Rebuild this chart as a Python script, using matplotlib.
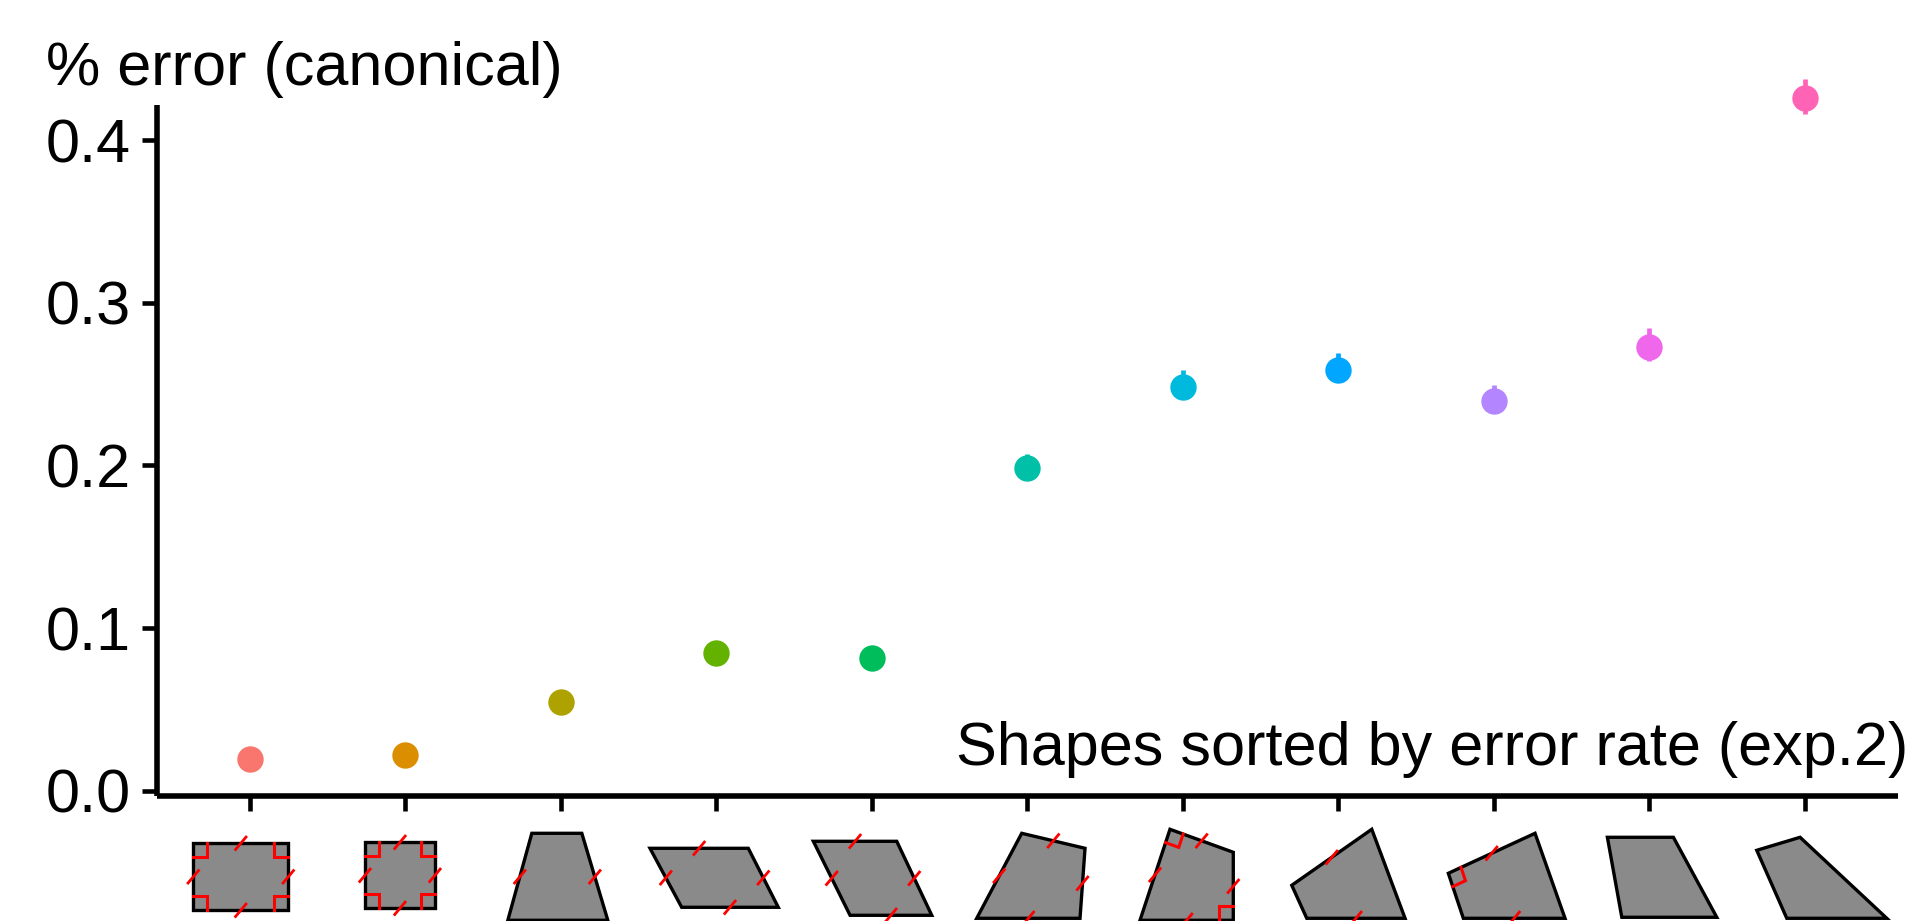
import numpy as np
import matplotlib
matplotlib.use("Agg")
import matplotlib.pyplot as plt
from matplotlib.patches import Polygon

# ---------------- data ----------------
shape_ids = list(range(1, 12))
error_mean = [0.0193, 0.0218, 0.0546, 0.0845, 0.0814, 0.1985, 0.2483, 0.2589, 0.2394, 0.2728, 0.4258]
err_low = [0.004, 0.004, 0.004, 0.004, 0.005, 0.006, 0.007, 0.007, 0.007, 0.0086, 0.0096]
err_high = [0.004, 0.005, 0.005, 0.005, 0.007, 0.0086, 0.0102, 0.0102, 0.0102, 0.0117, 0.0117]
colors = ["#F8766D", "#DB8E00", "#AEA200", "#64B200", "#00BD5C", "#00C1A7",
          "#00BADE", "#00A6FF", "#B385FF", "#EF67EB", "#FF63B6"]
y_ticks = [0.0, 0.1, 0.2, 0.3, 0.4]
y_tick_labels = ["0.0", "0.1", "0.2", "0.3", "0.4"]
y_label = "% error (canonical)"
x_label = "Shapes sorted by error rate (exp.2)"

# shape glyphs drawn as x tick "labels": outline (px offsets from tick, px below axis line),
# edges carrying equal-length slashes, vertices carrying right-angle marks
shape_outlines = [
    [(-56.6, 47), (38.4, 47), (38.4, 114), (-56.6, 114)],
    [(-40.4, 46), (29.6, 46), (29.6, 112), (-40.4, 112)],
    [(-29, 37), (21, 37), (47, 124), (-53, 124)],
    [(-66.3, 52), (32, 52), (62, 111), (-34.6, 111)],
    [(-58.4, 45), (25, 45), (60, 119), (-21.7, 119)],
    [(-5.5, 37), (57.8, 52), (52.8, 122), (-50.5, 122)],
    [(-12.7, 33), (50.6, 56), (50.6, 124), (-42.7, 124)],
    [(33.6, 33), (-46.4, 89), (-31.4, 122), (66.9, 122)],
    [(-45.3, 77), (41.4, 37), (71.4, 122), (-30.3, 122)],
    [(-41.7, 41), (24.3, 41), (67.7, 121), (-27.3, 121)],
    [(-47.8, 54), (-4.5, 41), (82.2, 122), (-17.8, 122)],
]
shape_slash_edges = [[0, 1, 2, 3], [0, 1, 2, 3], [1, 3], [0, 1, 2, 3], [0, 1, 2, 3],
                     [0, 1, 2, 3], [0, 1, 2, 3], [0, 2], [0, 2], [], []]
shape_right_angles = [[0, 1, 2, 3], [0, 1, 2, 3], [], [], [], [], [0, 2], [], [0], [], []]

# ---------------- figure ----------------
plt.rcParams['font.family'] = ['Liberation Sans', 'DejaVu Sans']
W, H, DPI = 1930, 921, 100
fig = plt.figure(figsize=(W / DPI, H / DPI), dpi=DPI)
fig.patch.set_facecolor('white')

ax = fig.add_axes([0.08114, 0.1354, 0.9022, 0.8006])
x = np.arange(len(shape_ids))
for i in range(len(shape_ids)):
    ax.errorbar(x[i], error_mean[i], yerr=[[err_low[i]], [err_high[i]]], fmt='o',
                color=colors[i], ms=19, mew=0, elinewidth=3.4, capsize=0,
                clip_on=False, zorder=3)

ax.set_xlim(-0.6, 10.6)
ax.set_ylim(-0.0035, 0.45)
ax.set_yticks(y_ticks)
ax.set_yticklabels(y_tick_labels)
ax.set_xticks(x)
ax.set_xticklabels([""] * len(x))
for s in ['top', 'right']:
    ax.spines[s].set_visible(False)
for s in ['left', 'bottom']:
    ax.spines[s].set_linewidth(4)
    ax.spines[s].set_capstyle('butt')
ax.spines['left'].set_bounds(-0.0035, 0.4214)
ax.tick_params(axis='both', direction='out', length=10.5, width=3.3, labelsize=44,
               pad=8, color='black', labelcolor='black')
ax.set_facecolor('white')

fig.text(46 / W, 1 - 85 / H, y_label, fontsize=44, ha='left', va='baseline')
fig.text(1908 / W, 1 - 765 / H, x_label, fontsize=44, ha='right', va='baseline')

# ---------------- shape glyphs under the ticks ----------------
fig.canvas.draw()
ov = fig.add_axes([0, 0, 1, 1], facecolor='none')
ov.set_xlim(0, W)
ov.set_ylim(H, 0)
ov.axis('off')
base_row = H - ax.transAxes.transform((0, 0))[1]

def unit(v):
    v = np.asarray(v, float)
    return v / np.hypot(*v)

for i, outline in enumerate(shape_outlines):
    cx = ax.transData.transform((x[i], 0))[0]
    pts = np.array([(cx + dx, base_row + dy) for dx, dy in outline])
    ov.add_patch(Polygon(pts, closed=True, facecolor='#8a8a8a', edgecolor='black',
                         linewidth=2.4, joinstyle='miter', clip_on=False, zorder=1))
    n = len(pts)
    ang = np.deg2rad(50)
    d = np.array([np.cos(ang), -np.sin(ang)]) * 9.5
    for k in shape_slash_edges[i]:
        m = (pts[k] + pts[(k + 1) % n]) / 2
        ov.plot([m[0] - d[0], m[0] + d[0]], [m[1] - d[1], m[1] + d[1]],
                color='red', lw=2.0, solid_capstyle='butt', clip_on=False, zorder=2)
    for k in shape_right_angles[i]:
        v = pts[k]
        ua = unit(pts[(k + 1) % n] - v)
        ub = unit(pts[(k - 1) % n] - v)
        s = 14
        q = np.array([v + s * ua, v + s * (ua + ub), v + s * ub])
        ov.plot(q[:, 0], q[:, 1], color='red', lw=2.2, solid_joinstyle='miter',
                clip_on=False, zorder=2)

fig.savefig('out.png', dpi=DPI, facecolor='white')
